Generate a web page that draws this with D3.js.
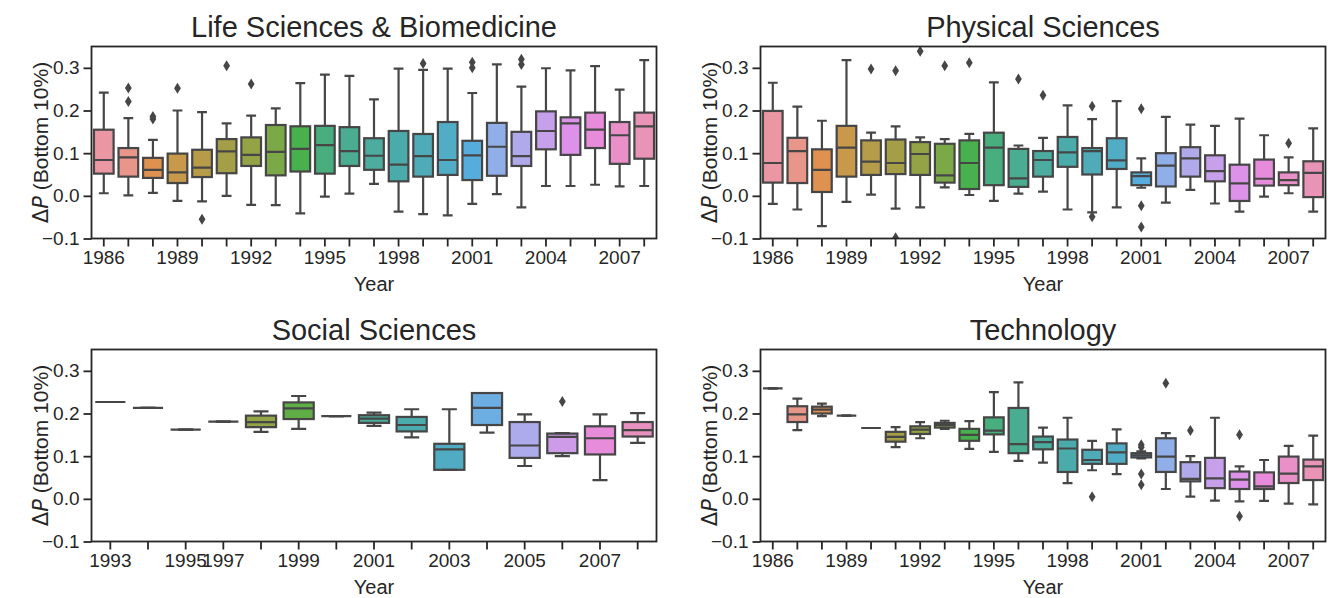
<!DOCTYPE html>
<html><head><meta charset="utf-8">
<script src="https://cdn.jsdelivr.net/npm/d3@7"></script>
<style>body{margin:0;background:#fff}svg{display:block}</style>
</head><body><svg id="c" width="1335" height="598"></svg>
<script>
// ---------------- DATA ----------------
const fullYears = d3.range(1986, 2009);
const socialYears = [1993,1994,1995,1997,1998,1999,2000,2001,2002,2003,2004,2005,2006,2007,2008];

const fullTickLabels = [1986,1989,1992,1995,1998,2001,2004,2007];
const socialTickLabels = [1993,1995,1997,1999,2001,2003,2005,2007];
const yTicks = [-0.1, 0.0, 0.1, 0.2, 0.3];

// Life Sciences & Biomedicine
const lifeLo  = [0.006,0.001,0.007,-0.012,-0.013,0.000,-0.021,-0.022,-0.041,-0.002,0.005,0.028,-0.037,-0.043,-0.046,-0.019,0.004,-0.027,0.023,0.023,0.026,0.022,0.023];
const lifeQ1  = [0.052,0.045,0.042,0.030,0.044,0.053,0.070,0.048,0.057,0.052,0.070,0.061,0.034,0.045,0.049,0.037,0.047,0.070,0.109,0.096,0.112,0.075,0.087];
const lifeMed = [0.084,0.090,0.061,0.055,0.066,0.104,0.096,0.103,0.110,0.119,0.105,0.094,0.073,0.093,0.084,0.095,0.115,0.093,0.152,0.170,0.155,0.142,0.163];
const lifeQ3  = [0.155,0.112,0.089,0.099,0.108,0.133,0.137,0.166,0.163,0.164,0.161,0.135,0.152,0.145,0.173,0.129,0.171,0.150,0.198,0.184,0.195,0.173,0.195];
const lifeHi  = [0.242,0.182,0.131,0.200,0.196,0.170,0.188,0.205,0.264,0.284,0.281,0.226,0.298,0.295,0.298,0.241,0.308,0.256,0.299,0.294,0.304,0.249,0.318];
const lifeOut = [[],[0.253,0.221],[0.186,0.180],[0.252],[-0.055],[0.305],[0.262],[],[],[],[],[],[],[0.310],[],[0.313,0.300],[],[0.320,0.308],[],[],[],[],[]];

// Physical Sciences
const physLo  = [-0.019,-0.032,-0.071,-0.014,0.003,-0.030,-0.027,0.020,0.002,-0.012,0.005,0.010,-0.032,-0.039,-0.027,0.019,-0.016,0.014,-0.018,-0.037,-0.002,0.006,-0.037];
const physQ1  = [0.031,0.030,0.009,0.045,0.049,0.051,0.049,0.031,0.016,0.025,0.021,0.045,0.068,0.050,0.063,0.025,0.022,0.045,0.034,-0.012,0.024,0.025,-0.003];
const physMed = [0.077,0.105,0.061,0.113,0.080,0.077,0.098,0.048,0.077,0.113,0.041,0.084,0.102,0.105,0.083,0.046,0.071,0.088,0.058,0.029,0.040,0.037,0.054];
const physQ3  = [0.199,0.136,0.109,0.164,0.130,0.132,0.126,0.122,0.130,0.148,0.110,0.105,0.138,0.112,0.135,0.055,0.100,0.114,0.095,0.073,0.085,0.055,0.081];
const physHi  = [0.265,0.209,0.176,0.318,0.148,0.163,0.137,0.133,0.145,0.266,0.118,0.136,0.212,0.180,0.222,0.088,0.185,0.167,0.164,0.181,0.142,0.090,0.158];
const physOut = [[],[],[],[],[0.297],[0.293,-0.098],[0.339],[0.305],[0.312],[],[0.274],[0.236],[],[0.210,-0.049],[],[0.204,-0.023,-0.073],[],[],[],[],[],[0.123],[]];

// Social Sciences
const socLo  = [0.227,0.213,0.162,0.181,0.157,0.164,0.194,0.171,0.144,0.068,0.155,0.077,0.100,0.044,0.131];
const socQ1  = [0.227,0.213,0.162,0.181,0.168,0.187,0.194,0.178,0.158,0.068,0.173,0.096,0.107,0.104,0.146];
const socMed = [0.227,0.213,0.162,0.181,0.180,0.212,0.194,0.188,0.173,0.116,0.213,0.125,0.145,0.142,0.161];
const socQ3  = [0.227,0.213,0.162,0.181,0.195,0.226,0.194,0.196,0.192,0.129,0.248,0.180,0.153,0.170,0.180];
const socHi  = [0.227,0.213,0.162,0.181,0.205,0.241,0.194,0.202,0.210,0.210,0.248,0.198,0.154,0.198,0.201];
const socOut = [[],[],[],[],[],[],[],[],[],[],[],[],[0.228],[],[]];

// Technology
const techLo  = [0.259,0.161,0.194,0.195,0.166,0.121,0.142,0.164,0.117,0.110,0.089,0.085,0.037,0.067,0.058,0.095,0.023,0.005,-0.004,-0.006,-0.005,-0.011,-0.013];
const techQ1  = [0.259,0.180,0.200,0.195,0.166,0.134,0.152,0.167,0.136,0.151,0.107,0.116,0.063,0.082,0.082,0.097,0.063,0.041,0.025,0.023,0.023,0.037,0.044];
const techMed = [0.259,0.198,0.209,0.195,0.166,0.145,0.162,0.173,0.150,0.160,0.128,0.133,0.118,0.091,0.109,0.102,0.099,0.047,0.048,0.045,0.029,0.059,0.076];
const techQ3  = [0.259,0.217,0.216,0.195,0.166,0.157,0.170,0.178,0.164,0.191,0.213,0.146,0.139,0.115,0.130,0.107,0.142,0.086,0.096,0.064,0.062,0.099,0.092];
const techHi  = [0.259,0.235,0.223,0.195,0.166,0.168,0.180,0.183,0.182,0.250,0.273,0.167,0.190,0.136,0.163,0.111,0.154,0.100,0.190,0.076,0.091,0.124,0.148];
const techOut = [[],[],[],[],[],[],[],[],[],[],[],[],[],[0.005],[],[0.127,0.121,0.058,0.033],[0.271],[0.160],[],[0.150,-0.041],[],[],[]];

// ---------------- HUSL palette (seaborn style) ----------------
const MM = [[3.2406,-1.5372,-0.4986],[-0.9689,1.8758,0.0415],[0.0557,-0.2040,1.0570]];
const refU=0.19784, refV=0.46834, kappa=903.2963, eps=0.0088564;
function maxChroma(L,H){
  const hr=H/360*2*Math.PI, s=Math.sin(hr), c=Math.cos(hr);
  const sub1=Math.pow(L+16,3)/1560896, sub2=sub1>eps?sub1:L/kappa;
  let res=Infinity;
  for(const [m1,m2,m3] of MM){
    const top=(0.99915*m1+1.05122*m2+1.14460*m3)*sub2;
    const rb=0.86330*m3-0.17266*m2, lb=0.12949*m3-0.38848*m1;
    const bottom=(rb*s+lb*c)*sub2;
    for(const t of [0,1]){const C=L*(top-1.05122*t)/(bottom+0.17266*s*t); if(C>0&&C<res)res=C;}
  }
  return res;
}
function husl2rgb(H,S,L){
  const C=maxChroma(L,H)/100*S, hr=H/360*2*Math.PI;
  const U=Math.cos(hr)*C, V=Math.sin(hr)*C;
  const Y=L>8?Math.pow((L+16)/116,3):L/kappa;
  const vu=U/(13*L)+refU, vv=V/(13*L)+refV;
  const X=-(9*Y*vu)/((vu-4)*vv-vu*vv);
  const Z=(9*Y-15*vv*Y-vv*X)/(3*vv);
  return MM.map(r=>{const v=r[0]*X+r[1]*Y+r[2]*Z;const g=v<=0.0031308?12.92*v:1.055*Math.pow(v,1/2.4)-0.055;return Math.min(1,Math.max(0,g));});
}
function palette(n){
  const cols=[];
  for(let i=0;i<n;i++){
    let h=(i/n+0.01)%1*359;
    const [r,g,b]=husl2rgb(h,0.9*99,0.7*99);
    const hsl=d3.hsl(d3.rgb(r*255,g*255,b*255));
    hsl.s*=0.75;
    cols.push(hsl);
  }
  const lum=d3.min(cols,c=>c.l)*0.6;
  const gv=Math.round(lum*255);
  return {colors:cols.map(c=>c.formatHex()), gray:d3.rgb(gv,gv,gv).formatHex()};
}

// ---------------- DRAW ----------------
const svg=d3.select("#c");
const TXT="#262626", FONT="'Liberation Sans', Arial, sans-serif";
const panels=[
  {title:"Life Sciences & Biomedicine", years:fullYears, labels:fullTickLabels, lo:lifeLo,q1:lifeQ1,med:lifeMed,q3:lifeQ3,hi:lifeHi,out:lifeOut, x0:91.5,x1:656.5,y0:46.5,y1:238.5},
  {title:"Physical Sciences", years:fullYears, labels:fullTickLabels, lo:physLo,q1:physQ1,med:physMed,q3:physQ3,hi:physHi,out:physOut, x0:760.5,x1:1325.5,y0:46.5,y1:238.5},
  {title:"Social Sciences", years:socialYears, labels:socialTickLabels, lo:socLo,q1:socQ1,med:socMed,q3:socQ3,hi:socHi,out:socOut, x0:91.5,x1:656.5,y0:349.5,y1:541.5},
  {title:"Technology", years:fullYears, labels:fullTickLabels, lo:techLo,q1:techQ1,med:techMed,q3:techQ3,hi:techHi,out:techOut, x0:760.5,x1:1325.5,y0:349.5,y1:541.5}
];

panels.forEach((p,pi)=>{
  const x=d3.scaleBand().domain(p.years).range([p.x0,p.x1]).padding(0);
  const y=d3.scaleLinear().domain([-0.1,0.35]).range([p.y1,p.y0]);
  const {colors,gray}=palette(p.years.length);
  const bw=x.bandwidth(), w=bw*0.8;
  const g=svg.append("g");
  const clipId="clip"+pi;
  svg.append("clipPath").attr("id",clipId).append("rect")
    .attr("x",p.x0).attr("y",p.y0).attr("width",p.x1-p.x0).attr("height",p.y1-p.y0);
  const plot=g.append("g").attr("clip-path",`url(#${clipId})`);
  const LW=2.2;
  p.years.forEach((yr,i)=>{
    const cx=x(yr)+bw/2;
    const b=plot.append("g");
    b.append("rect").attr("x",cx-w/2).attr("width",w)
      .attr("y",y(p.q3[i])).attr("height",Math.max(0,y(p.q1[i])-y(p.q3[i])))
      .attr("fill",colors[i]).attr("stroke",gray).attr("stroke-width",LW);
    b.append("line").attr("x1",cx).attr("x2",cx).attr("y1",y(p.q1[i])).attr("y2",y(p.lo[i])).attr("stroke",gray).attr("stroke-width",LW);
    b.append("line").attr("x1",cx).attr("x2",cx).attr("y1",y(p.q3[i])).attr("y2",y(p.hi[i])).attr("stroke",gray).attr("stroke-width",LW);
    [p.lo[i],p.hi[i]].forEach(v=>{
      b.append("line").attr("x1",cx-w/4).attr("x2",cx+w/4).attr("y1",y(v)).attr("y2",y(v)).attr("stroke",gray).attr("stroke-width",LW);
    });
    b.append("line").attr("x1",cx-w/2).attr("x2",cx+w/2).attr("y1",y(p.med[i])).attr("y2",y(p.med[i])).attr("stroke",gray).attr("stroke-width",LW);
    p.out[i].forEach(v=>{
      const yy=y(v), hh=5.5, ww=3.4;
      b.append("path").attr("d",`M${cx},${yy-hh}L${cx+ww},${yy}L${cx},${yy+hh}L${cx-ww},${yy}Z`).attr("fill",gray);
    });
  });
  // axes
  const ax=d3.axisLeft(y).tickValues(yTicks).tickFormat(d3.format(".1f")).tickSize(8).tickPadding(4);
  const gy=g.append("g").attr("transform",`translate(${p.x0},0)`).call(ax);
  const lab=new Set(p.labels);
  const bx=d3.axisBottom(x).tickFormat(d=>lab.has(d)?String(d):"").tickSize(8).tickPadding(4);
  const gx=g.append("g").attr("transform",`translate(0,${p.y1})`).call(bx);
  [gx,gy].forEach(a=>{
    a.select(".domain").remove();
    a.selectAll(".tick line").attr("stroke",TXT).attr("stroke-width",1.8);
    a.selectAll(".tick text").attr("fill",TXT).style("font-family",FONT).style("font-size","19px");
  });
  g.append("rect").attr("x",p.x0).attr("y",p.y0).attr("width",p.x1-p.x0).attr("height",p.y1-p.y0)
    .attr("fill","none").attr("stroke",TXT).attr("stroke-width",1.8);
  // title
  g.append("text").attr("x",(p.x0+p.x1)/2).attr("y",p.y0-10).attr("text-anchor","middle")
    .attr("fill",TXT).style("font-family",FONT).style("font-size","29px").text(p.title);
  // x label
  g.append("text").attr("x",(p.x0+p.x1)/2).attr("y",p.y1+52).attr("text-anchor","middle")
    .attr("fill",TXT).style("font-family",FONT).style("font-size","20px").text("Year");
  // y label
  const yl=g.append("text").attr("transform",`translate(${p.x0-44},${(p.y0+p.y1)/2}) rotate(-90)`)
    .attr("text-anchor","middle").attr("fill",TXT).style("font-family",FONT).style("font-size","21px");
  yl.append("tspan").style("font-family","'DejaVu Sans'").text("Δ");
  yl.append("tspan").style("font-family","'DejaVu Sans'").style("font-style","italic").text("P");
  yl.append("tspan").text(" (Bottom 10%)");
});
</script>
</body></html>
